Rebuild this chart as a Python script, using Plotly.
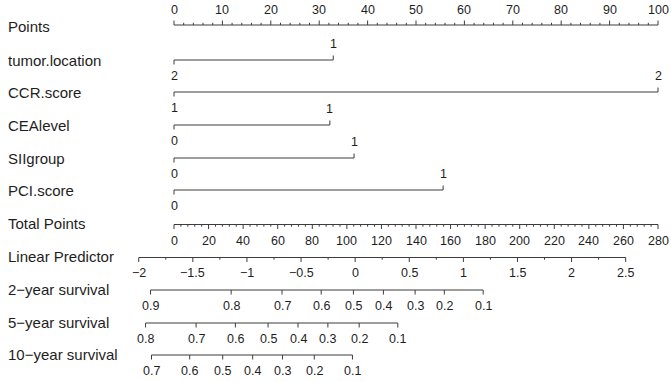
import plotly.graph_objects as go

# ---------------- data ----------------
points_ticks = list(range(0, 101, 10))
points_minor = list(range(0, 101, 2))

row_names = ["tumor.location", "CCR.score", "CEAlevel", "SIIgroup", "PCI.score"]
row_levels = [["2", "1"], ["1", "2"], ["0", "1"], ["0", "1"], ["0", "1"]]
row_points = [[0, 32.9], [0, 100], [0, 32.2], [0, 37.2], [0, 55.6]]

total_ticks = list(range(0, 281, 20))
total_minor = list(range(0, 281, 4))

lp_ticks = [-2, -1.5, -1, -0.5, 0, 0.5, 1, 1.5, 2, 2.5]
lp_minor = [-2 + 0.25 * i for i in range(19)]
lp_labels = ["\u22122", "\u22121.5", "\u22121", "\u22120.5", "0", "0.5", "1", "1.5", "2", "2.5"]
lp_zero_total = 104.8      # total points at linear predictor 0
total_per_lp = 62.6        # total points per unit of linear predictor

surv_names = ["2\u2212year survival", "5\u2212year survival", "10\u2212year survival"]
surv_probs = [
    [0.9, 0.8, 0.7, 0.6, 0.5, 0.4, 0.3, 0.2, 0.1],
    [0.8, 0.7, 0.6, 0.5, 0.4, 0.3, 0.2, 0.1],
    [0.7, 0.6, 0.5, 0.4, 0.3, 0.2, 0.1],
]
surv_lp = [
    [-1.891, -1.146, -0.676, -0.314, -0.016, 0.261, 0.554, 0.824, 1.183],
    [-1.937, -1.470, -1.107, -0.805, -0.528, -0.252, 0.037, 0.394],
    [-1.882, -1.529, -1.224, -0.947, -0.671, -0.378, -0.025],
]

# ---------------- styling / layout ----------------
W, H = 671, 382
X0_PX, X100_PX = 174, 658          # pixel positions of 0 and 100 points
ppx = (X100_PX - X0_PX) / 100.0
xr = [(0 - X0_PX) / ppx, (W - X0_PX) / ppx]
LINE = "#3c3c3c"
TXT = "#1e1e1e"
FONT = "Liberation Sans, Arial, sans-serif"
LBL_SIZE = 15
TICK_SIZE = 12.5
MAJ, MIN = 4.5, 2.2
LABEL_X = (6 - X0_PX) / ppx


def tp2p(tp):
    return tp * 100.0 / 280.0


def lp2p(lp):
    return tp2p(lp_zero_total + lp * total_per_lp)


fig = go.Figure()
annotations = []


def add_lines(segs):
    xs, ys = [], []
    for (xa, ya, xb, yb) in segs:
        xs += [xa, xb, None]
        ys += [ya, yb, None]
    fig.add_trace(go.Scatter(x=xs, y=ys, mode="lines",
                             line=dict(color=LINE, width=1),
                             hoverinfo="skip", showlegend=False))


def add_text(x, y, s, size=TICK_SIZE, anchor="center"):
    annotations.append(dict(x=x, y=y, xref="x", yref="y", text=s, showarrow=False,
                            xanchor=anchor, yanchor="middle",
                            font=dict(family=FONT, size=size, color=TXT)))


def row_label(y, s):
    add_text(LABEL_X, y, s, size=LBL_SIZE, anchor="left")


# Points axis (ticks up, labels above)
y = 25
row_label(y + 1, "Points")
segs = [(0, y, 100, y)]
for v in points_minor:
    segs.append((v, y, v, y - (MAJ if v in points_ticks else MIN)))
add_lines(segs)
for v in points_ticks:
    add_text(v, y - 15, str(v))

# variable rows
row_y = [60, 92, 125, 158, 190]
for name, levels, pts, y in zip(row_names, row_levels, row_points, row_y):
    row_label(y, name)
    lo, hi = min(pts), max(pts)
    segs = [(lo, y, hi, y)]
    for i, (lev, p) in enumerate(zip(levels, pts)):
        if i % 2 == 0:   # below
            segs.append((p, y, p, y + MAJ))
            add_text(p, y + 16, lev)
        else:            # above
            segs.append((p, y, p, y - MAJ))
            add_text(p, y - 16, lev)
    add_lines(segs)

# Total points (ticks down, labels below)
y = 224.5
row_label(y - 1, "Total Points")
segs = [(tp2p(0), y, tp2p(280), y)]
for v in total_minor:
    segs.append((tp2p(v), y, tp2p(v), y + (MAJ if v in total_ticks else MIN)))
add_lines(segs)
for v in total_ticks:
    add_text(tp2p(v), y + 16, str(v))

# Linear predictor
y = 257.5
row_label(y - 1, "Linear Predictor")
segs = [(lp2p(lp_ticks[0]), y, lp2p(lp_ticks[-1]), y)]
for v in lp_minor:
    is_major = any(abs(v - t) < 1e-9 for t in lp_ticks)
    segs.append((lp2p(v), y, lp2p(v), y + (MAJ if is_major else MIN)))
add_lines(segs)
for v, s in zip(lp_ticks, lp_labels):
    add_text(lp2p(v), y + 15.5, s)

# survival axes
surv_y = [290, 323, 355]
for name, probs, lps, y in zip(surv_names, surv_probs, surv_lp, surv_y):
    row_label(y - 1, name)
    segs = [(lp2p(min(lps)), y, lp2p(max(lps)), y)]
    for v in lps:
        segs.append((lp2p(v), y, lp2p(v), y + MAJ))
    add_lines(segs)
    for pr, v in zip(probs, lps):
        add_text(lp2p(v), y + 16, f"{pr:g}")

fig.update_layout(
    width=W, height=H, margin=dict(l=0, r=0, t=0, b=0),
    paper_bgcolor="white", plot_bgcolor="white",
    xaxis=dict(range=xr, visible=False, fixedrange=True),
    yaxis=dict(range=[H, 0], visible=False, fixedrange=True),
    annotations=annotations, showlegend=False,
)
fig.write_html("out.html", config={"displayModeBar": False},
               post_script="document.body.style.margin='0px';document.body.style.overflow='hidden';")
